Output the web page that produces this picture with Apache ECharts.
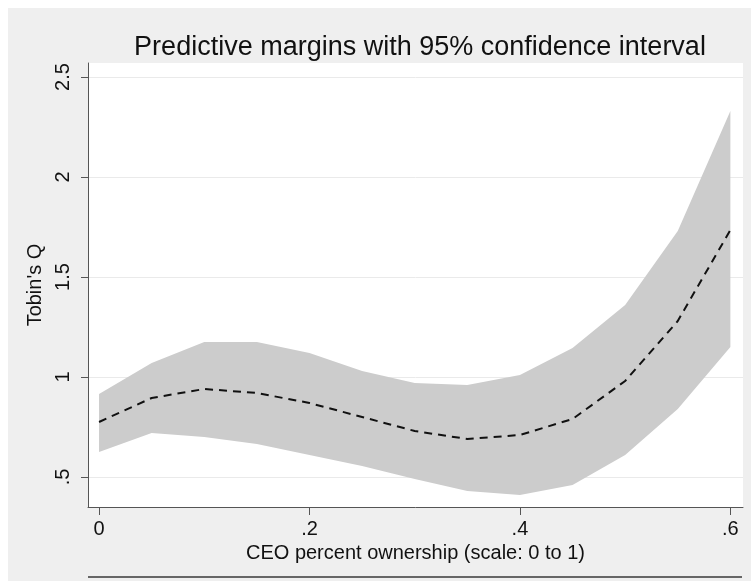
<!DOCTYPE html>
<html>
<head>
<meta charset="utf-8">
<script src="https://cdn.jsdelivr.net/npm/echarts@6/dist/echarts.min.js"></script>
<style>
  html, body { margin: 0; padding: 0; background: #fff; }
  #chart { width: 751px; height: 581px; }
</style>
</head>
<body>
<div id="chart"></div>
<script>
// CEO ownership share (x) and predicted Tobin's Q with 95% CI
const ownership = [0, 0.05, 0.1, 0.15, 0.2, 0.25, 0.3, 0.35, 0.4, 0.45, 0.5, 0.55, 0.6];
const margin    = [0.775, 0.895, 0.94, 0.92, 0.87, 0.80, 0.73, 0.69, 0.71, 0.79, 0.98, 1.28, 1.735];
const upperCI   = [0.915, 1.07, 1.175, 1.175, 1.12, 1.03, 0.97, 0.96, 1.01, 1.145, 1.36, 1.73, 2.33];
const lowerCI   = [0.625, 0.72, 0.70, 0.665, 0.61, 0.555, 0.49, 0.43, 0.41, 0.46, 0.61, 0.84, 1.15];
const xTicks = [0, 0.2, 0.4, 0.6];
const yTicks = [0.5, 1, 1.5, 2, 2.5];

// stata style labels: drop the leading zero
const fmt = v => (v === 0 ? '0' : String(v).replace(/^0\./, '.'));

const chart = echarts.init(document.getElementById('chart'));
const font = 'Liberation Sans, Arial, sans-serif';

// confidence band drawn as one polygon: upper edge left->right, lower edge back
function renderBand(params, api) {
  if (params.dataIndex !== 0) return null;
  const pts = [];
  for (let i = 0; i < ownership.length; i++) pts.push(api.coord([ownership[i], upperCI[i]]));
  for (let i = ownership.length - 1; i >= 0; i--) pts.push(api.coord([ownership[i], lowerCI[i]]));
  return {
    type: 'polygon',
    shape: { points: pts },
    style: { fill: '#cccccc', stroke: null }
  };
}

chart.setOption({
  animation: false,
  backgroundColor: '#fff',
  graphic: [
    { type: 'rect', z: -10, shape: { x: 8, y: 8, width: 743, height: 573 }, style: { fill: '#efefef' } },
    { type: 'line', shape: { x1: 88, y1: 577, x2: 742, y2: 577 }, style: { stroke: '#666', lineWidth: 2 } }
  ],
  title: {
    text: 'Predictive margins with 95% confidence interval',
    left: 415, top: 29, textAlign: 'center',
    textStyle: { fontFamily: font, fontSize: 27, fontWeight: 'normal', color: '#111' }
  },
  grid: {
    left: 88, right: 8, top: 63, bottom: 74,
    outerBoundsMode: 'none', containLabel: false,
    show: true, backgroundColor: '#fff', borderWidth: 0
  },
  xAxis: {
    type: 'value', min: -0.0105, max: 0.612,
    name: 'CEO percent ownership (scale: 0 to 1)',
    nameLocation: 'middle', nameGap: 34,
    nameTextStyle: { fontFamily: font, fontSize: 20, color: '#111' },
    axisLine: { show: true, onZero: false, lineStyle: { color: '#555', width: 1 } },
    axisTick: { show: true, length: 8, customValues: xTicks, lineStyle: { color: '#555' } },
    axisLabel: { customValues: xTicks, formatter: fmt, margin: 12, fontFamily: font, fontSize: 20, color: '#111' },
    splitLine: { show: false }
  },
  yAxis: {
    type: 'value', min: 0.35, max: 2.57,
    name: "Tobin's Q",
    nameLocation: 'middle', nameGap: 38, nameRotate: 90,
    nameTextStyle: { fontFamily: font, fontSize: 20, color: '#111' },
    axisLine: { show: true, onZero: false, lineStyle: { color: '#555', width: 1 } },
    axisTick: { show: true, length: 7, customValues: yTicks, lineStyle: { color: '#555' } },
    axisLabel: { customValues: yTicks, formatter: fmt, rotate: 90, margin: 15, fontFamily: font, fontSize: 20, color: '#111' },
    splitLine: { show: true, lineStyle: { color: '#eaeaea', width: 1 } }
  },
  series: [
    {
      name: 'ci', type: 'custom', silent: true, z: 2,
      renderItem: renderBand,
      encode: { x: 0, y: [1, 2] },
      data: ownership.map((x, i) => [x, lowerCI[i], upperCI[i]])
    },
    {
      name: 'margin', type: 'line', symbol: 'none', z: 5,
      lineStyle: { color: '#111', width: 2, type: [8, 6] },
      data: ownership.map((x, i) => [x, margin[i]])
    }
  ]
});
</script>
</body>
</html>
